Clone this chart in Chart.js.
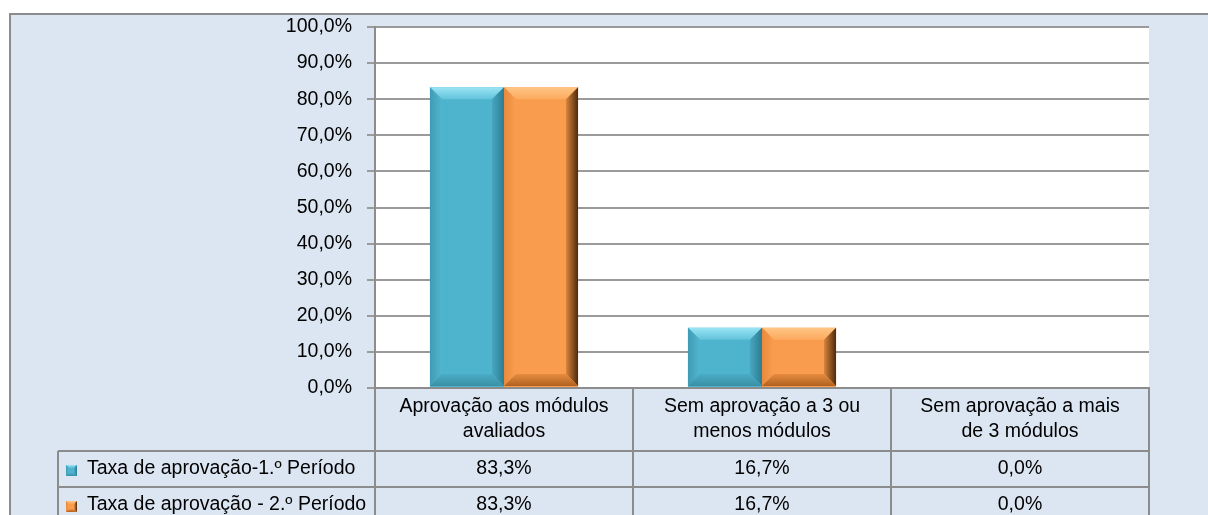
<!DOCTYPE html>
<html>
<head>
<meta charset="utf-8">
<script src="https://cdn.jsdelivr.net/npm/chart.js@4.4.1/dist/chart.umd.min.js"></script>
<style>
  html, body { margin: 0; padding: 0; background: #ffffff; width: 1208px; height: 515px; overflow: hidden; }
  #frame { position: absolute; left: 9px; top: 13px; width: 1230px; height: 530px;
           border: 2px solid #8c8c8c; background: #dce6f2; }
  #c { position: absolute; left: 0; top: 0; }
</style>
</head>
<body>
<div id="frame"><canvas id="c" width="1197" height="500"></canvas></div>
<script>
// Categories (multi-line header labels of the data table)
const categories = [
  ['Aprovação aos módulos', 'avaliados'],
  ['Sem aprovação a 3 ou', 'menos módulos'],
  ['Sem aprovação a mais', 'de 3 módulos']
];
// Series names
const seriesNames = ['Taxa de aprovação-1.º Período', 'Taxa de aprovação - 2.º Período'];
// Approval rates (%)
const period1 = [83.3, 16.7, 0.0];
const period2 = [83.3, 16.7, 0.0];
// Y axis range and step (%)
const yMin = 0;
const yMax = 100;
const yStep = 10;

const FONT = { family: '"Liberation Sans", Arial, sans-serif', size: 19.5 };
const LINE = '#8c8c8c';

// Bevel palettes: [edge colour, inner colour] for each face
const palettes = [
  { main: '#4eb3cc', top: ['#9ae4f4', '#62c3db'], left: ['#3f9bb3', '#52b6cf'],
    right: ['#2d7c92', '#47a7c0'], bottom: ['#3a90a6', '#4aacc5'] },
  { main: '#f99c4d', top: ['#ffc585', '#fcaa5e'], left: ['#e9893c', '#f99e50'],
    right: ['#4e2a0c', '#d8843c'], bottom: ['#b0621f', '#e68c40'] }
];

const fmtPct = v => v.toFixed(1).replace('.', ',') + '%';

function face(ctx, pts, grad) {
  ctx.beginPath();
  ctx.moveTo(pts[0][0], pts[0][1]);
  for (let i = 1; i < pts.length; i++) ctx.lineTo(pts[i][0], pts[i][1]);
  ctx.closePath();
  ctx.fillStyle = grad;
  ctx.fill();
}

function bevel(ctx, x0, y0, x1, y1, pal, size) {
  const w = x1 - x0, h = y1 - y0;
  if (w <= 0 || h <= 0) return;
  const b = Math.min(size, w / 4, h / 2);
  let g;
  g = ctx.createLinearGradient(0, y0, 0, y0 + b);
  g.addColorStop(0, pal.top[0]); g.addColorStop(1, pal.top[1]);
  face(ctx, [[x0, y0], [x1, y0], [x1 - b, y0 + b], [x0 + b, y0 + b]], g);
  g = ctx.createLinearGradient(x0, 0, x0 + b, 0);
  g.addColorStop(0, pal.left[0]); g.addColorStop(1, pal.left[1]);
  face(ctx, [[x0, y0], [x0 + b, y0 + b], [x0 + b, y1 - b], [x0, y1]], g);
  g = ctx.createLinearGradient(x1, 0, x1 - b, 0);
  g.addColorStop(0, pal.right[0]); g.addColorStop(1, pal.right[1]);
  face(ctx, [[x1, y0], [x1, y1], [x1 - b, y1 - b], [x1 - b, y0 + b]], g);
  g = ctx.createLinearGradient(0, y1, 0, y1 - b);
  g.addColorStop(0, pal.bottom[0]); g.addColorStop(1, pal.bottom[1]);
  face(ctx, [[x0, y1], [x0 + b, y1 - b], [x1 - b, y1 - b], [x1, y1]], g);
}

// White plot background
const plotBg = {
  id: 'plotBg',
  beforeDraw(chart) {
    const { ctx, chartArea: a } = chart;
    ctx.save();
    ctx.fillStyle = '#ffffff';
    ctx.fillRect(a.left, a.top, a.right - a.left, a.bottom - a.top);
    ctx.restore();
  }
};

// Bevelled faces on top of every bar
const bevelBars = {
  id: 'bevelBars',
  afterDatasetsDraw(chart) {
    const ctx = chart.ctx;
    ctx.save();
    chart.data.datasets.forEach((ds, i) => {
      chart.getDatasetMeta(i).data.forEach(bar => {
        const { x, y, base, width } = bar.getProps(['x', 'y', 'base', 'width'], true);
        bevel(ctx, x - width / 2, Math.min(y, base), x + width / 2, Math.max(y, base) - 1, palettes[i], 12);
      });
    });
    ctx.restore();
  }
};

// Data table beneath the plot: header labels come from the x axis ticks,
// the value rows and legend keys are drawn here from the datasets.
const HEADER_H = 63;
const ROW_H = 36;
const LEGEND_LEFT = 47;
const dataTable = {
  id: 'dataTable',
  afterDraw(chart) {
    const { ctx, chartArea: a, scales: { x } } = chart;
    const n = chart.data.labels.length;
    const half = (x.getPixelForValue(1) - x.getPixelForValue(0)) / 2;
    const headBottom = a.bottom + HEADER_H;
    const rows = chart.data.datasets.length;
    const tableBottom = headBottom + rows * ROW_H;
    ctx.save();
    ctx.strokeStyle = LINE;
    ctx.lineWidth = 2;
    ctx.beginPath();
    // column boundaries
    for (let i = 0; i <= n; i++) {
      const px = Math.round(x.getPixelForValue(0) - half + i * 2 * half);
      ctx.moveTo(px, a.bottom); ctx.lineTo(px, tableBottom);
    }
    ctx.moveTo(LEGEND_LEFT, headBottom); ctx.lineTo(LEGEND_LEFT, tableBottom);
    // row boundaries
    for (let r = 0; r <= rows; r++) {
      const py = headBottom + r * ROW_H;
      ctx.moveTo(LEGEND_LEFT, py); ctx.lineTo(a.right, py);
    }
    ctx.stroke();

    ctx.font = FONT.size + 'px ' + FONT.family;
    ctx.textBaseline = 'middle';
    chart.data.datasets.forEach((ds, r) => {
      const rowTop = headBottom + r * ROW_H;
      const cy = rowTop + 18;
      // legend key
      ctx.fillStyle = palettes[r].main;
      ctx.fillRect(LEGEND_LEFT + 8, rowTop + 14, 11, 11);
      bevel(ctx, LEGEND_LEFT + 8, rowTop + 14, LEGEND_LEFT + 19, rowTop + 25, palettes[r], 3);
      ctx.fillStyle = '#000000';
      ctx.textAlign = 'left';
      ctx.fillText(ds.label, LEGEND_LEFT + 29, cy);
      ctx.textAlign = 'center';
      ds.data.forEach((v, i) => ctx.fillText(fmtPct(v), x.getPixelForValue(i), cy));
    });
    ctx.restore();
  }
};

new Chart(document.getElementById('c'), {
  type: 'bar',
  data: {
    labels: categories,
    datasets: [
      { label: seriesNames[0], data: period1, backgroundColor: palettes[0].main },
      { label: seriesNames[1], data: period2, backgroundColor: palettes[1].main }
    ]
  },
  options: {
    responsive: false,
    devicePixelRatio: 1,
    animation: false,
    layout: { padding: { top: 12, right: 59, bottom: 0, left: 0 } },
    plugins: { legend: { display: false }, tooltip: { enabled: false } },
    datasets: { bar: { barPercentage: 1, categoryPercentage: 0.574, borderWidth: 0 } },
    scales: {
      x: {
        grid: { display: false, drawTicks: false },
        border: { display: true, color: LINE, width: 2 },
        ticks: { color: '#000000', font: { ...FONT, lineHeight: 1.3 }, padding: 6, maxRotation: 0, autoSkip: false },
        afterFit(scale) { scale.height = 127; scale.paddingLeft = 0; scale.paddingRight = 0; }
      },
      y: {
        min: yMin, max: yMax,
        grid: { color: '#9a9a9a', lineWidth: 2, tickLength: 8 },
        border: { display: true, color: LINE, width: 2 },
        ticks: { stepSize: yStep, color: '#000000', font: FONT, padding: 15, callback: v => fmtPct(v) },
        afterFit(scale) { scale.width = 364; scale.paddingTop = 0; scale.paddingBottom = 0; }
      }
    }
  },
  plugins: [plotBg, bevelBars, dataTable]
});
</script>
</body>
</html>
